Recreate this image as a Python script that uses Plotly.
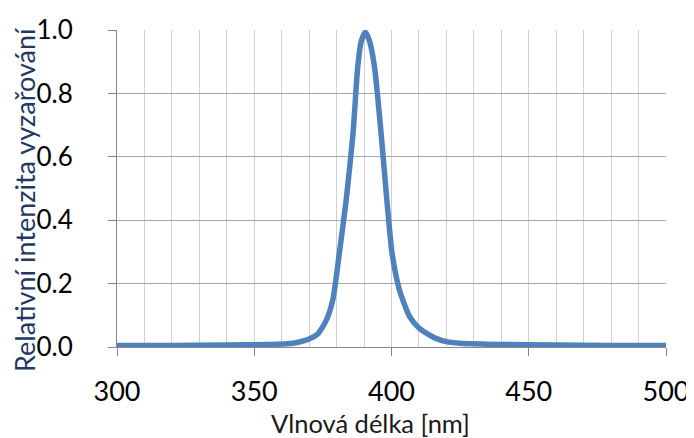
import plotly.graph_objects as go

wavelength_nm = [300, 320, 340, 355, 362, 366, 370, 373, 376, 378.6, 381, 383.5, 386, 387.7,
                 389, 390.5, 392, 393.8, 396.2, 398.3, 400.2, 402.9, 406.6, 410, 412.7, 416,
                 420, 425, 430, 440, 460, 480, 500]
rel_intensity = [0.005, 0.005, 0.006, 0.008, 0.010, 0.015, 0.025, 0.040, 0.080, 0.148, 0.296,
                 0.464, 0.675, 0.884, 0.965, 0.993, 0.965, 0.884, 0.675, 0.464, 0.296, 0.180,
                 0.096, 0.060, 0.044, 0.028, 0.017, 0.012, 0.010, 0.008, 0.006, 0.005, 0.005]
x_ticks = [300, 350, 400, 450, 500]
y_ticks = [0.0, 0.2, 0.4, 0.6, 0.8, 1.0]
x_title = "Vlnová délka [nm]"
y_title = "Relativní intenzita vyzařování"

font = "Lato, 'Open Sans', sans-serif"
# the page has an 8px body margin, so the figure is 8px smaller and offset
OFF = 8
PX0, PX1, PY0, PY1 = 117, 666, 30, 347   # plot area in page pixels
W, H = 694 - OFF, 438 - OFF
L, T = PX0 - OFF, PY0 - OFF
R, B = 694 - PX1, 438 - PY1
pw, ph = PX1 - PX0, PY1 - PY0

fig = go.Figure()
fig.add_trace(go.Scatter(
    x=wavelength_nm, y=rel_intensity, mode="lines",
    line=dict(color="#4f81bd", width=5.5, shape="spline", smoothing=0.6),
    showlegend=False, hoverinfo="skip"))

fig.update_layout(
    width=W, height=H,
    margin=dict(l=L, r=R, t=T, b=B, autoexpand=False),
    paper_bgcolor="white", plot_bgcolor="white",
    font=dict(family=font, color="#000000"),
    annotations=[
        dict(text=y_title, xref="paper", yref="paper",
             x=(24 - PX0) / pw, y=(PY1 - 200) / ph, textangle=-90, showarrow=False,
             xanchor="center", yanchor="middle",
             font=dict(size=27, family=font, color="#1f3864")),
        dict(text=x_title, xref="paper", yref="paper",
             x=(370 - PX0) / pw, y=(PY1 - 423) / ph, showarrow=False,
             xanchor="center", yanchor="middle",
             font=dict(size=25.5, family=font, color="#1a1a1a")),
    ],
)
fig.update_xaxes(
    range=[300, 500], tickvals=x_ticks, ticktext=[str(v) for v in x_ticks],
    showgrid=True, gridcolor="#d0d0d0", gridwidth=1,
    minor=dict(dtick=10, tick0=300, showgrid=True, gridcolor="#d0d0d0", gridwidth=1, ticks=""),
    ticks="outside", ticklen=8, tickcolor="#878787",
    showline=True, linecolor="#878787", linewidth=1,
    tickfont=dict(size=27, family=font, color="#000000"),
    ticklabelstandoff=13,
    automargin=False, zeroline=False,
)
fig.update_yaxes(
    range=[0, 1], tickvals=y_ticks, ticktext=[f"{v:.1f}" for v in y_ticks],
    showgrid=True, gridcolor="#a6a6a6", gridwidth=1,
    ticks="outside", ticklen=8, tickcolor="#878787",
    showline=True, linecolor="#878787", linewidth=1,
    tickfont=dict(size=26, family=font, color="#000000"),
    ticklabelstandoff=30,
    automargin=False, zeroline=False,
)

fig.write_html("out.html")
